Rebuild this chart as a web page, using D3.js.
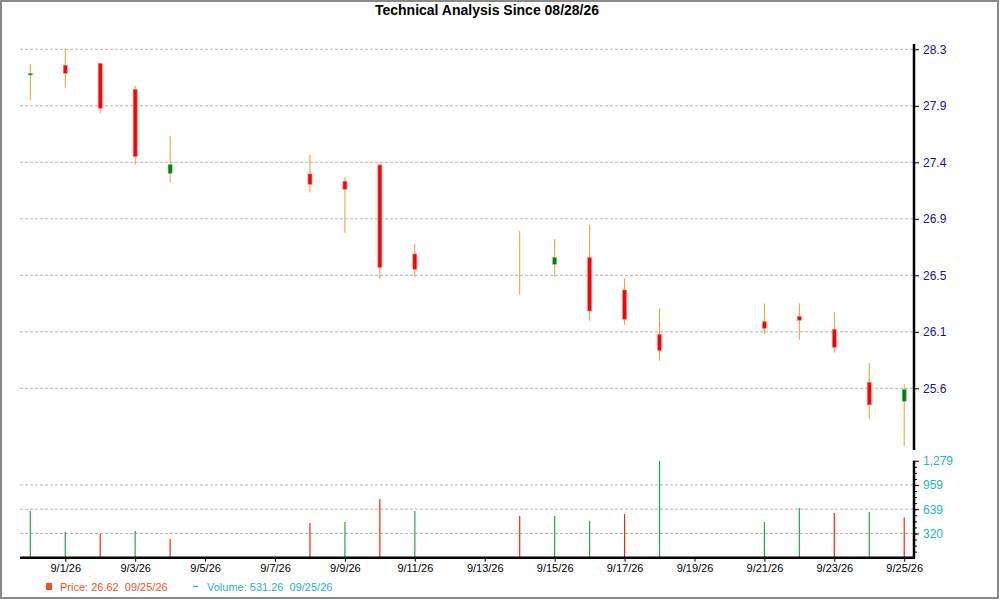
<!DOCTYPE html>
<html>
<head>
<meta charset="utf-8">
<script src="https://cdn.jsdelivr.net/npm/d3@7"></script>
<style>
  body { margin: 0; background: #fff; }
  text { font-family: "Liberation Sans", Arial, sans-serif; }
</style>
</head>
<body>
<script>
//=== Data ===
const dates = ["2026-08-31","2026-09-01","2026-09-02","2026-09-03","2026-09-04",
  "2026-09-08","2026-09-09","2026-09-10","2026-09-11",
  "2026-09-14","2026-09-15","2026-09-16","2026-09-17","2026-09-18",
  "2026-09-21","2026-09-22","2026-09-23","2026-09-24","2026-09-25"]
const open  = [28.095,28.173,28.188,27.981,27.312, 27.307,27.249,27.379,26.670, 26.588,26.588,26.643,26.383,26.030, 26.131,26.174,26.070,25.648,25.497]
const high  = [28.183,28.306,28.190,28.008,27.610, 27.458,27.281,27.385,26.749, 26.853,26.789,26.901,26.476,26.237, 26.277,26.277,26.208,25.802,25.632]
const low   = [27.896,27.994,27.787,27.381,27.238, 27.158,26.839,26.476,26.489, 26.346,26.489,26.138,26.107,25.820, 26.035,25.987,25.884,25.358,25.143]
const close = [28.109,28.109,27.830,27.445,27.381, 27.225,27.185,26.561,26.548, 26.588,26.643,26.216,26.150,25.900, 26.078,26.142,25.927,25.469,25.592]
const volume = [616,339,313,352,247, 458,471,774,616, 550,550,488,577,1279, 471,656,590,603,531.26]
const volumeUp = [1,1,0,1,0, 0,1,0,1, 0,1,1,0,1, 1,1,0,1,0]

const priceTickValues = [25.6,26.05,26.5,26.95,27.4,27.85,28.3]
const priceTickLabels = ["25.6","26.1","26.5","26.9","27.4","27.9","28.3"]
const volumeTickValues = [319.75,639.5,959.25,1279]
const volumeTickLabels = ["320","639","959","1,279"]

const data = dates.map((d, i) => ({
  date: d3.timeParse("%Y-%m-%d")(d),
  open: open[i], high: high[i], low: low[i], close: close[i],
  volume: volume[i], up: volumeUp[i] === 1
}))

//=== Layout ===
const W = 1000, H = 600
const plotLeft = 20, plotRight = 914
const priceTop = 44, priceBottom = 450
const volTop = 460.7, volBottom = 557.7

const svg = d3.select("body").append("svg")
  .attr("width", W)
  .attr("height", H)

// outer frame
svg.append("rect")
  .attr("x", 1).attr("y", 1)
  .attr("width", W - 3).attr("height", H - 3)
  .attr("fill", "none")
  .attr("stroke", "#8a8a8a")
  .attr("stroke-width", 2)

svg.append("text")
  .attr("x", 487).attr("y", 15)
  .attr("text-anchor", "middle")
  .attr("font-size", 14)
  .attr("font-weight", "bold")
  .text("Technical Analysis Since 08/28/26")

//=== Scales ===
const x = d3.scaleTime()
  .domain([new Date(2026, 7, 30, 16, 55), new Date(2026, 8, 25, 6, 43)])
  .range([plotLeft, plotRight])

const y = d3.scaleLinear()
  .domain([25.109, 28.342])
  .range([priceBottom, priceTop])

const yv = d3.scaleLinear()
  .domain([0, 1279])
  .range([volBottom, volTop])

// grid lines
svg.append("g")
  .selectAll("line")
  .data(priceTickValues)
  .join("line")
  .attr("x1", plotLeft).attr("x2", plotRight)
  .attr("y1", d => y(d)).attr("y2", d => y(d))
  .attr("stroke", "#b4b4b4")
  .attr("stroke-dasharray", "3,2")

svg.append("g")
  .selectAll("line")
  .data(volumeTickValues.slice(0, 3))
  .join("line")
  .attr("x1", plotLeft).attr("x2", plotRight)
  .attr("y1", d => yv(d)).attr("y2", d => yv(d))
  .attr("stroke", "#b4b4b4")
  .attr("stroke-dasharray", "3,2")

//=== Candles ===
const candles = svg.append("g")
  .selectAll("g")
  .data(data)
  .join("g")

candles.append("line")
  .attr("x1", d => x(d.date)).attr("x2", d => x(d.date))
  .attr("y1", d => y(d.high)).attr("y2", d => y(d.low))
  .attr("stroke", "#f39a2b")
  .attr("stroke-width", 1)

candles.filter(d => d.open !== d.close)
  .append("rect")
  .attr("x", d => x(d.date) - 2)
  .attr("width", 4)
  .attr("y", d => y(Math.max(d.open, d.close)))
  .attr("height", d => Math.abs(y(d.open) - y(d.close)))
  .attr("fill", d => d.close > d.open ? "#008000" : "#ff0000")
  .attr("stroke", d => d.close > d.open ? "#80c080" : "#ff8080")
  .attr("stroke-width", 0.6)

//=== Volume ===
svg.append("g")
  .selectAll("line")
  .data(data)
  .join("line")
  .attr("x1", d => x(d.date)).attr("x2", d => x(d.date))
  .attr("y1", yv(0)).attr("y2", d => yv(d.volume))
  .attr("stroke", d => d.up ? "#1fa84a" : "#ff2200")
  .attr("stroke-width", 1.2)

//=== Axes ===
// price axis (right)
const priceAxis = svg.append("g")
  .attr("transform", "translate(" + plotRight + ",0)")
  .call(d3.axisRight(y)
    .tickValues(priceTickValues)
    .tickFormat((d, i) => priceTickLabels[i])
    .tickSize(5)
    .tickPadding(4))
priceAxis.select(".domain")
  .attr("d", "M0," + priceTop + "V" + priceBottom)
  .attr("stroke-width", 2.5)
priceAxis.selectAll("text")
  .attr("font-size", 12)
  .attr("font-family", "Liberation Sans, Arial, sans-serif")
  .attr("fill", "#1414a0")

// volume axis (right) with minor ticks
svg.append("g")
  .attr("transform", "translate(" + plotRight + ",0)")
  .call(d3.axisRight(yv)
    .tickValues(d3.range(1, 16).map(k => k * 1279 / 16))
    .tickFormat("")
    .tickSize(3))
  .call(g => g.select(".domain").remove())

const volAxis = svg.append("g")
  .attr("transform", "translate(" + plotRight + ",0)")
  .call(d3.axisRight(yv)
    .tickValues(volumeTickValues)
    .tickFormat((d, i) => volumeTickLabels[i])
    .tickSize(5)
    .tickPadding(4))
volAxis.select(".domain")
  .attr("d", "M0," + volTop + "V" + volBottom)
  .attr("stroke-width", 2.5)
volAxis.selectAll("text")
  .attr("font-size", 12)
  .attr("font-family", "Liberation Sans, Arial, sans-serif")
  .attr("fill", "#1cb4c4")

// date axis (bottom)
const dateTicks = d3.timeDay.range(new Date(2026, 8, 1), new Date(2026, 8, 26), 2)
const dateAxis = svg.append("g")
  .attr("transform", "translate(0," + volBottom + ")")
  .call(d3.axisBottom(x)
    .tickValues(dateTicks)
    .tickFormat(d3.timeFormat("%-m/%-d/%y"))
    .tickSize(4)
    .tickPadding(3))
dateAxis.select(".domain")
  .attr("d", "M" + plotLeft + ",0H" + (plotRight + 1))
  .attr("stroke-width", 2.5)
dateAxis.selectAll("text")
  .attr("font-size", 11)
  .attr("font-family", "Liberation Sans, Arial, sans-serif")
  .attr("fill", "#000")

//=== Legend ===
svg.append("rect")
  .attr("x", 46).attr("y", 583)
  .attr("width", 6).attr("height", 7)
  .attr("fill", "#f4511e")
svg.append("text")
  .attr("x", 60).attr("y", 591)
  .attr("font-size", 11)
  .attr("fill", "#f4511e")
  .attr("xml:space", "preserve")
  .text("Price: 26.62  09/25/26")

svg.append("line")
  .attr("x1", 193).attr("x2", 198)
  .attr("y1", 586.5).attr("y2", 586.5)
  .attr("stroke", "#1cb4c4")
  .attr("stroke-width", 1.2)
svg.append("text")
  .attr("x", 207).attr("y", 591)
  .attr("font-size", 11)
  .attr("fill", "#1cb4c4")
  .attr("xml:space", "preserve")
  .text("Volume: 531.26  09/25/26")
</script>
</body>
</html>
